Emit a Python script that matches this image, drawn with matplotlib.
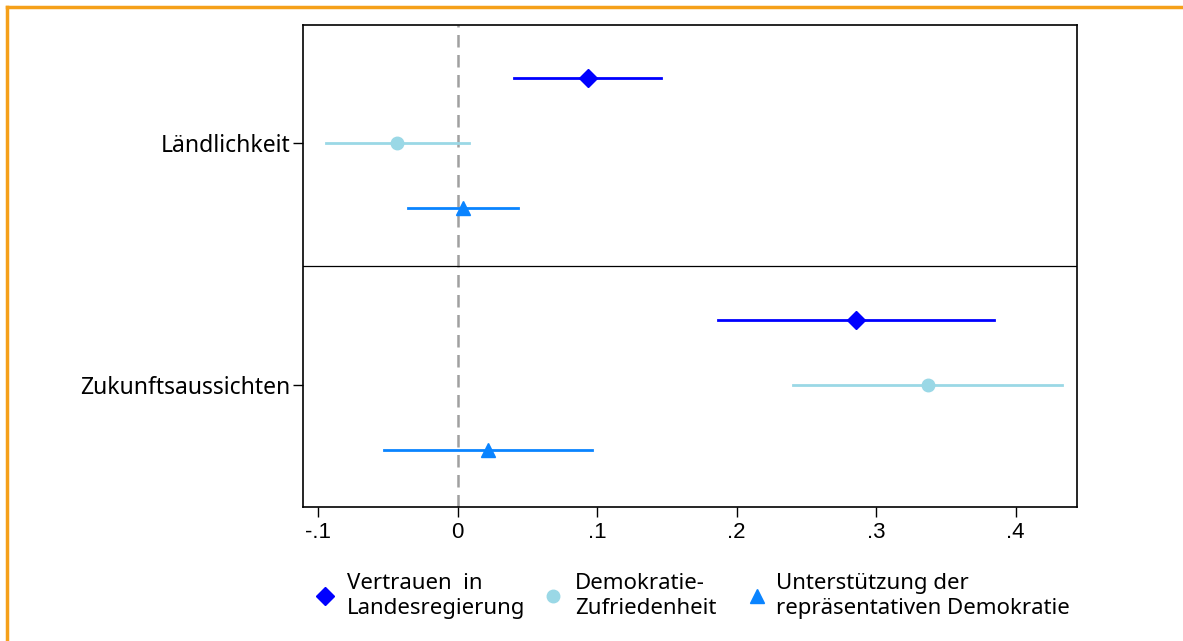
import matplotlib
matplotlib.use('Agg')
import matplotlib.pyplot as plt
from matplotlib.lines import Line2D

# coefficients and 95% CIs
groups = ['Ländlichkeit', 'Zukunftsaussichten']
series = ['Vertrauen  in\nLandesregierung', 'Demokratie-\nZufriedenheit',
          'Unterstützung der\nrepräsentativen Demokratie']
coef = [[0.0935, -0.0434, 0.0040],
        [0.2857, 0.3370, 0.0219]]
lo = [[0.0405, -0.0940, -0.0355],
      [0.1867, 0.2405, -0.0527]]
hi = [[0.1460, 0.0082, 0.0434],
      [0.3846, 0.4333, 0.0964]]
xticks = [-0.1, 0, 0.1, 0.2, 0.3, 0.4]
xticklabels = ['-.1', '0', '.1', '.2', '.3', '.4']

colors = ['#0000FF', '#9AD8E6', '#0A84FF']
markers = ['D', 'o', '^']
msizes = [9, 9, 10]

group_center = [1.0, 4.72]
divider = 2.89

W, H = 1183, 641
fig = plt.figure(figsize=(W / 100, H / 100), dpi=100)
ax = fig.add_axes([303 / W, 1 - 507 / H, (1077 - 303) / W, (507 - 25) / H])

ax.axvline(0, color='#A0A0A0', lw=1.8, ls=(0, (5, 3)), zorder=1)
ax.axhline(divider, color='black', lw=0.9)

for g in range(len(groups)):
    for s in range(len(series)):
        y = group_center[g] + (s - 1)
        ax.plot([lo[g][s], hi[g][s]], [y, y], color=colors[s], lw=2, zorder=2)
        ax.plot(coef[g][s], y, marker=markers[s], color=colors[s],
                ms=msizes[s], mec=colors[s], ls='none', zorder=3)

ax.set_xlim(-0.1108, 0.444)
ax.set_ylim(6.6, -0.815)
ax.set_xticks(xticks)
ax.set_xticklabels(xticklabels, fontfamily='Liberation Sans', fontsize=16)
ax.set_yticks(group_center)
ax.set_yticklabels(groups, fontfamily='Noto Sans', fontsize=16.5)
ax.tick_params(axis='both', length=7, width=1, color='black')
ax.tick_params(axis='x', pad=4)
ax.tick_params(axis='y', pad=2)
for sp in ax.spines.values():
    sp.set_linewidth(1.2)

# legend drawn by hand so the entries sit where the reference has them
leg_marker_x = [325, 553, 757]
leg_text_x = [347, 575, 776]
leg_y = 596
for i in range(3):
    fig.add_artist(Line2D([leg_marker_x[i] / W], [1 - leg_y / H], marker=markers[i],
                          color=colors[i], ms=msizes[i], ls='none',
                          transform=fig.transFigure))
    fig.text(leg_text_x[i] / W, 1 - leg_y / H, series[i], ha='left', va='center',
             fontfamily='Noto Sans', fontsize=16, linespacing=1.3)

# orange frame (only top and left edges fall inside the image)
fig.add_artist(Line2D([7 / W, 7 / W], [0, 1 - 7 / H], color='#F5A01A', lw=2.5,
                      transform=fig.transFigure))
fig.add_artist(Line2D([7 / W, 1], [1 - 7 / H, 1 - 7 / H], color='#F5A01A', lw=2.5,
                      transform=fig.transFigure))

fig.savefig('out.png', dpi=100)
